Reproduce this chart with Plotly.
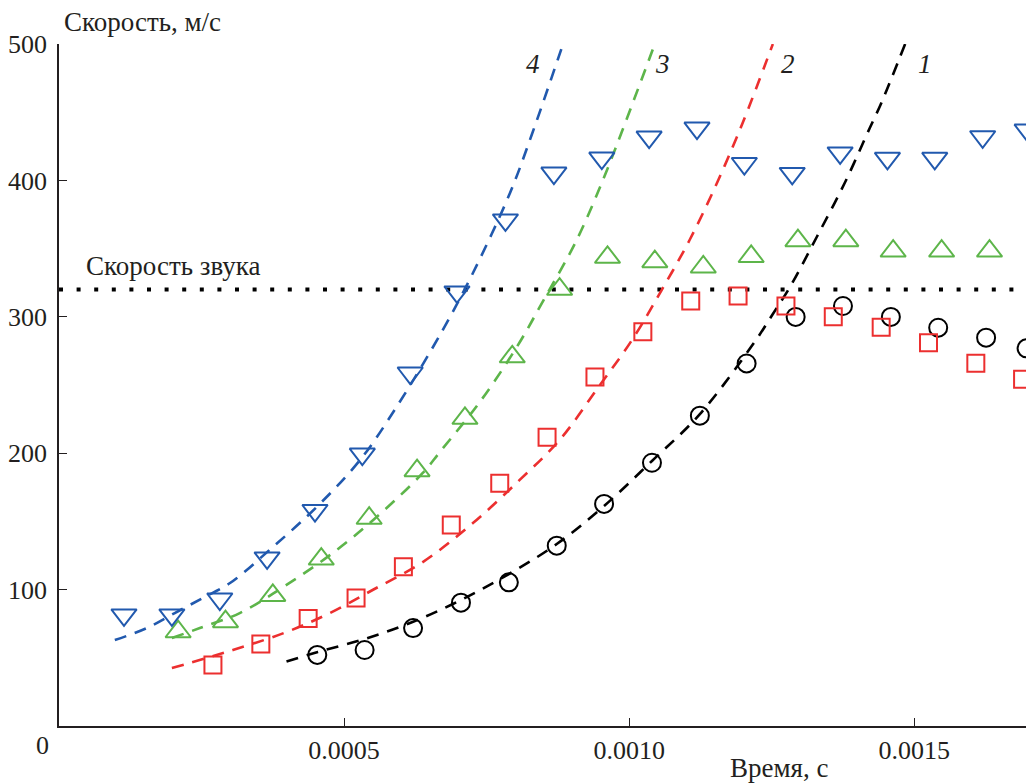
import plotly.graph_objects as go

# Measured velocity vs. time, four experiments
t4 = [0.000114, 0.000198, 0.000282, 0.000365, 0.000449, 0.000532, 0.000616, 0.000698,
      0.000783, 0.000868, 0.000952, 0.001035, 0.001119, 0.001202, 0.001286, 0.001370,
      0.001453, 0.001536, 0.001620, 0.001698]
v4 = [81.4, 81.4, 93.1, 123.2, 158.0, 199.4, 258.8, 318.2, 371.0, 405.4, 416.4, 431.8,
      438.4, 412.4, 405.1, 420.1, 416.2, 416.2, 432.0, 436.9]

t3 = [0.000209, 0.000292, 0.000375, 0.000460, 0.000544, 0.000628, 0.000712, 0.000795,
      0.000878, 0.000962, 0.001045, 0.001130, 0.001214, 0.001296, 0.001380, 0.001463,
      0.001548, 0.001632]
v3 = [69.1, 76.5, 95.7, 122.4, 152.3, 187.2, 225.6, 270.7, 320.2, 343.6, 340.4, 336.5,
      344.2, 355.8, 355.8, 348.2, 348.2, 348.2]

t2 = [0.000270, 0.000354, 0.000437, 0.000521, 0.000604, 0.000688, 0.000773, 0.000856,
      0.000940, 0.001024, 0.001108, 0.001191, 0.001275, 0.001358, 0.001442, 0.001525,
      0.001608, 0.001690]
v2 = [44.7, 60.1, 78.8, 93.8, 116.8, 147.4, 177.9, 211.7, 255.9, 289.1, 311.6, 315.2,
      307.9, 300.1, 292.3, 281.0, 265.9, 254.2]

t1 = [0.000453, 0.000536, 0.000621, 0.000705, 0.000789, 0.000873, 0.000956, 0.001040,
      0.001124, 0.001206, 0.001292, 0.001375, 0.001459, 0.001542, 0.001626, 0.001697]
v1 = [52.1, 55.7, 71.8, 90.4, 105.3, 132.2, 162.8, 193.0, 227.5, 265.8, 299.9, 307.9,
      299.9, 292.0, 284.7, 276.9]

# Approximating curves 1-4
ft1 = [0.000399, 0.000454, 0.000536, 0.000620, 0.000705, 0.000789, 0.000873, 0.000956,
       0.001040, 0.001124, 0.001220, 0.001252, 0.001282, 0.001329, 0.001378, 0.001422,
       0.001443, 0.001484]
fv1 = [47.3, 54.3, 63.8, 76.2, 92.4, 111.4, 133.4, 161.3, 194.3, 228.7, 281.5, 302.1,
       321.8, 358.5, 398.1, 438.4, 457.5, 500.0]

ft2 = [0.000198, 0.000305, 0.000399, 0.000475, 0.000550, 0.000638, 0.000726, 0.000808,
       0.000878, 0.000945, 0.001005, 0.001057, 0.001106, 0.001154, 0.001199, 0.001252]
fv2 = [42.5, 55.7, 68.9, 82.8, 99.7, 120.2, 148.8, 180.4, 209.7, 247.8, 283.0, 319.6,
       356.3, 398.1, 442.1, 500.0]

ft3 = [0.000198, 0.000247, 0.000317, 0.000399, 0.000480, 0.000557, 0.000638, 0.000668,
       0.000738, 0.000803, 0.000852, 0.000908, 0.000954, 0.000987, 0.001045]
fv3 = [64.5, 71.8, 82.8, 103.4, 126.8, 153.2, 185.5, 200.9, 237.5, 277.9, 313.8, 356.3,
       400.3, 435.5, 500.0]

ft4 = [0.0000979, 0.000154, 0.000203, 0.000252, 0.000300, 0.000375, 0.000452, 0.000528,
       0.000592, 0.000673, 0.000726, 0.000791, 0.000829, 0.000884]
fv4 = [63.0, 71.8, 82.8, 93.8, 104.8, 131.2, 160.6, 195.0, 233.9, 290.3, 332.1, 390.8,
       433.3, 500.0]

sound_speed = 320
x_range = [0, 0.001696]
y_range = [0, 500]
y_ticks = [100, 200, 300, 400, 500]
x_ticks = [0.0005, 0.0010, 0.0015]
x_ticktext = ["0.0005", "0.0010", "0.0015"]

curve_labels = ["1", "2", "3", "4"]
curve_label_t = [0.001519, 0.001278, 0.001059, 0.000831]
curve_label_v = [485, 485, 485, 485]

BLUE = "#2159ae"
GREEN = "#5db54a"
RED = "#ec2f2f"
BLACK = "#000000"
FONT = "Liberation Serif, serif"
TXT = "#231f20"
FS = 26
FS_LABEL = 27

fig = go.Figure()

# sound speed reference line
fig.add_trace(go.Scatter(
    x=x_range, y=[sound_speed, sound_speed], mode="lines",
    line=dict(color=BLACK, width=4, dash="4px,13.6px"),
    hoverinfo="skip", showlegend=False))

dash = "12px,9px"
for ft, fv, col in [(ft1, fv1, BLACK), (ft2, fv2, RED), (ft3, fv3, GREEN), (ft4, fv4, BLUE)]:
    fig.add_trace(go.Scatter(
        x=ft, y=fv, mode="lines",
        line=dict(color=col, width=2.6, dash=dash, shape="spline", smoothing=1.0),
        showlegend=False))

for t, v, col, sym, size in [
    (t1, v1, BLACK, "circle-open", 18),
    (t2, v2, RED, "square-open", 17),
    (t3, v3, GREEN, "triangle-up-open", 22),
    (t4, v4, BLUE, "triangle-down-open", 22),
]:
    fig.add_trace(go.Scatter(
        x=t, y=v, mode="markers",
        marker=dict(symbol=sym, size=size, color=col, line=dict(color=col, width=2)),
        showlegend=False))

for lab, lt, lv in zip(curve_labels, curve_label_t, curve_label_v):
    fig.add_annotation(x=lt, y=lv, xref="x", yref="y", text=f"<i>{lab}</i>",
                       showarrow=False, font=dict(family=FONT, size=FS_LABEL, color=TXT))

fig.add_annotation(x=0.0028, y=1.032, xref="paper", yref="paper", text="Скорость, м/с",
                   xanchor="left", yanchor="middle", showarrow=False,
                   font=dict(family=FONT, size=FS_LABEL, color=TXT))
fig.add_annotation(x=0.0256, y=0.6745, xref="paper", yref="paper", text="Скорость звука",
                   xanchor="left", yanchor="middle", showarrow=False,
                   font=dict(family=FONT, size=FS_LABEL, color=TXT))
fig.add_annotation(x=0.7445, y=-0.062, xref="paper", yref="paper", text="Время, с",
                   xanchor="center", yanchor="middle", showarrow=False,
                   font=dict(family=FONT, size=FS_LABEL, color=TXT))
fig.add_annotation(x=-0.0169, y=-0.0279, xref="paper", yref="paper", text="0",
                   xanchor="center", yanchor="middle", showarrow=False,
                   font=dict(family=FONT, size=FS, color=TXT))

axis_common = dict(showgrid=False, zeroline=False, showline=True, linecolor="#231f20",
                   linewidth=1.5, ticks="inside", ticklen=8, tickwidth=1.2,
                   tickcolor="#231f20", tickfont=dict(family=FONT, size=FS, color=TXT))

fig.update_xaxes(range=x_range, tickvals=x_ticks, ticktext=x_ticktext, **axis_common)
fig.update_yaxes(range=y_range, tickvals=y_ticks, ticklabelstandoff=5, **axis_common)

fig.update_layout(
    width=1026, height=783,
    margin=dict(l=59, r=0, t=44, b=57),
    paper_bgcolor="white", plot_bgcolor="white",
    font=dict(family=FONT, size=FS, color=TXT),
    showlegend=False,
)

fig.write_html("out.html")
